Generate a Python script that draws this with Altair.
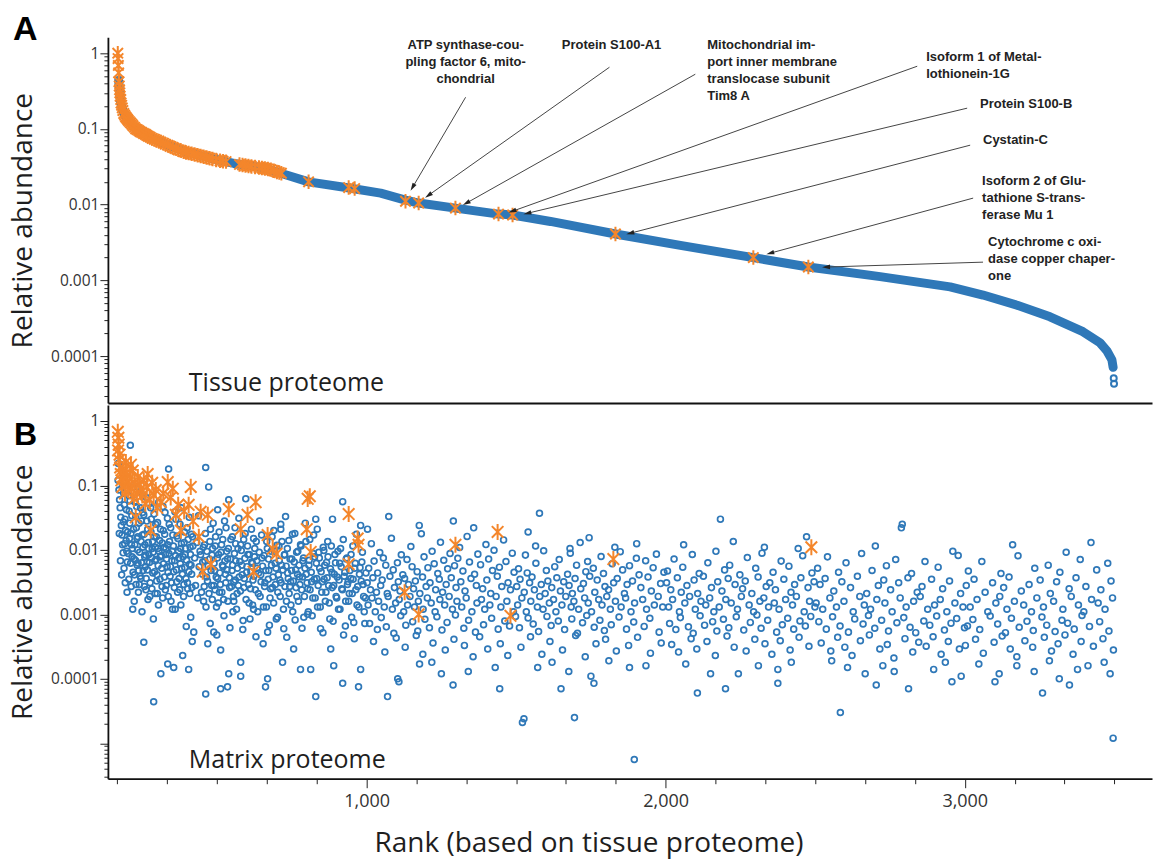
import math
import altair as alt
import pandas as pd

BLUE = "#2f78b8"
ORANGE = "#f4862b"
FONT = "Open Sans"
BOLD = "Liberation Sans"
INK = "#1e1e1e"

W, HA, HB = 1045, 366, 374
X_DOMAIN = [135, 3626]
YA_DOMAIN = [2.4e-5, 1.62]
YB_DOMAIN = [2.82e-6, 1.77]

# ---------------- Panel A: tissue proteome ----------------
tissue_rank = [171, 174, 178, 188, 205, 222, 245, 278, 335, 402,
               479, 556, 646, 713, 806, 947, 1047, 1130, 1174, 1297,
               1441, 1488, 1615, 1832, 2049, 2293, 2477, 2717, 2951, 3061,
               3175, 3285, 3395, 3452, 3476, 3492, 3496]
tissue_abund = [0.44, 0.30, 0.22, 0.16, 0.13, 0.105, 0.09, 0.078, 0.061, 0.049,
                0.041, 0.035, 0.031, 0.026, 0.020, 0.0165, 0.0142, 0.0115, 0.0105, 0.0090,
                0.0075, 0.0073, 0.0060, 0.0041, 0.0029, 0.0020, 0.0015, 0.00112, 0.00082, 0.00064,
                0.00047, 0.00033, 0.00021, 0.00015, 0.000116, 0.000089, 0.000071]
tissue_tail_rank = [3498, 3499]
tissue_tail_abund = [5.1e-5, 4.3e-5]

tissue_star_rank = [168, 169, 170, 171, 172, 173, 174, 175, 176, 178, 179, 181, 183, 185, 188, 191, 194, 197, 200,
                    203, 207, 211, 215, 219, 224, 228, 233, 238, 243, 248, 254, 260, 265, 270, 276, 283, 290,
                    297, 305, 312, 320, 327, 335, 343, 352, 361, 370, 379, 388, 396, 405, 415, 425, 435, 445,
                    455, 465, 475, 485, 497, 510, 520, 530, 575, 585, 595, 605, 615, 627, 640, 650, 660, 670,
                    680, 690, 700, 708, 715,
                    806, 940, 960, 1130, 1174, 1297, 1441, 1488, 1832, 2293, 2477]
tissue_star_abund = [1.0, 0.85, 0.69, 0.55, 0.42, 0.37, 0.33, 0.30, 0.27, 0.245, 0.22, 0.205, 0.19, 0.175, 0.16, 0.152, 0.145, 0.14, 0.135,
                     0.13, 0.125, 0.12, 0.115, 0.11, 0.105, 0.10, 0.098, 0.095, 0.092, 0.09, 0.087, 0.085, 0.082, 0.08, 0.078, 0.075, 0.073,
                     0.071, 0.069, 0.067, 0.065, 0.063, 0.061, 0.059, 0.057, 0.055, 0.053, 0.052, 0.050, 0.049, 0.048, 0.047, 0.046, 0.045, 0.044,
                     0.043, 0.042, 0.041, 0.040, 0.039, 0.038, 0.0375, 0.037, 0.034, 0.0335, 0.033, 0.0325, 0.032, 0.0315, 0.031, 0.0305, 0.030, 0.0295,
                     0.029, 0.028, 0.027, 0.0265, 0.026,
                     0.020, 0.0168, 0.0163, 0.0111, 0.0105, 0.0090, 0.0075, 0.0073, 0.0041, 0.0020, 0.0015]

ann_label = [
    "ATP synthase-cou-\npling factor 6, mito-\nchondrial",
    "Protein S100-A1",
    "Mitochondrial im-\nport inner membrane\ntranslocase subunit\nTim8 A",
    " Isoform 1 of Metal-\nlothionein-1G",
    "Protein S100-B",
    "Cystatin-C",
    " Isoform 2 of Glu-\ntathione S-trans-\nferase Mu 1",
    "  Cytochrome c oxi-\ndase copper chaper-\none",
]
ann_align = ["center", "center", "left", "left", "left", "left", "left", "left"]
ann_text_rank = [1331, 1819, 2139, 2871, 3051, 3061, 3058, 3078]
ann_text_abund = [1.53, 1.53, 1.53, 1.06, 0.255, 0.0853, 0.0245, 0.00384]
ann_from_rank = [1331, 1812, 2099, 2841, 3008, 3018, 3028, 3061]
ann_from_abund = [0.262, 0.653, 0.528, 0.673, 0.188, 0.061, 0.0122, 0.00174]
ann_tip_rank = [1154, 1207, 1334, 1488, 1538, 1882, 2350, 2537]
ann_tip_abund = [0.0170, 0.0133, 0.0105, 0.0082, 0.0077, 0.0042, 0.00229, 0.0015]

# ---------------- Panel B: matrix proteome (rank, relative abundance) ----------------
matrix_circles_1 = [[170,0.22],[172,0.085],[174,0.06],[176,0.045],[178,0.032],[180,0.024],[182,0.017],[184,0.012],[186,0.009],[188,0.075],
    [190,0.05],[192,0.03],[194,0.02],[196,0.014],[198,0.0095],[200,0.0065],[202,0.13],[204,0.07],[206,0.04],[208,0.026],
    [210,0.42],[212,0.018],[214,0.012],[216,0.0078],[218,0.0012],[220,0.095],[222,0.0073],[224,0.0041],[226,0.055],[228,0.033],
    [230,0.022],[232,0.015],[234,0.01],[236,0.0062],[238,0.0048],[240,0.0029],[242,0.08],[244,0.045],[245,0.0036],[247,0.028],
    [250,0.017],[252,0.011],[255,0.035],[255,0.00037],[258,0.0078],[260,0.0055],[262,0.0024],[264,0.065],[266,0.0065],[268,0.021],
    [270,0.013],[272,0.0085],[275,0.0019],[278,0.045],[280,0.03],[283,0.0105],[285,0.0044],[288,4.4e-5],[290,0.016],[292,0.0068],
    [295,0.025],[298,0.0033],[300,0.0021],[302,0.0105],[305,0.055],[308,0.014],[310,0.0078],[312,0.00012],[315,0.0052],[318,0.0018],
    [320,0.02],[323,0.011],[326,0.038],[328,0.0085],[330,0.0028],[333,0.0055],[335,0.012],[335,0.00017],[338,0.18],[340,0.025],
    [343,0.0039],[346,0.0016],[350,0.0095],[352,0.017],[355,0.0046],[355,0.00015],[358,0.0068],[360,0.0012],[362,0.03],[365,0.0032],
    [369,0.015],[372,0.0075],[375,0.0024],[378,0.0105],[380,0.045],[382,0.0052],[385,0.00023],[388,0.0019],[390,0.013],[393,0.0085],
    [396,0.0036],[400,0.022],[402,0.0025],[405,0.00014],[408,0.006],[410,0.011],[412,0.0009],[415,0.0042],[418,0.016]]
matrix_circles_1b = [[169,0.12],[173,0.018],[177,0.0068],[181,0.0041],[183,0.095],[187,0.027],[189,0.0052],[191,0.0125],[193,0.0031],[197,0.042],
    [199,0.0022],[201,0.019],[203,0.0088],[205,0.0035],[207,0.015],[209,0.058],[211,0.0062],[213,0.0027],[215,0.034],[217,0.0105],
    [219,0.0045],[221,0.021],[223,0.0016],[225,0.012],[227,0.0069],[229,0.0029],[231,0.047],[233,0.0058],[235,0.016],[237,0.0022],
    [239,0.026],[241,0.0092],[243,0.0039],[246,0.0135],[248,0.0063],[249,0.0011],[251,0.038],[253,0.0048],[256,0.0175],[257,0.0027],
    [259,0.012],[261,0.0083],[263,0.0036],[265,0.028],[267,0.0049],[269,0.0017],[271,0.0105],[273,0.052],[274,0.0064],[276,0.0031],
    [279,0.019],[281,0.0075],[282,0.0025],[284,0.0135],[286,0.0092],[287,0.00085],[289,0.036],[291,0.0046],[293,0.0021],[294,0.011],
    [296,0.0071],[297,0.016],[299,0.0041],[301,0.0265],[303,0.0057],[304,0.0014],[306,0.0095],[309,0.0035],[311,0.021],[314,0.0082],
    [316,0.0027],[317,0.0128],[319,0.047],[321,0.0061],[324,0.0038],[325,0.0175],[327,0.0024],[329,0.0105],[331,0.0072],[334,0.031],
    [336,0.0045],[337,0.0019],[339,0.0088],[341,0.0135],[344,0.0055],[345,0.022],[348,0.0031],[349,0.0068],[351,0.0012],[354,0.0115],
    [357,0.0026],[359,0.039],[361,0.0082],[364,0.0049],[366,0.0165],[368,0.0022],[371,0.0095],[373,0.0036],[376,0.025],[377,0.0061],
    [379,0.0014],[381,0.0125],[384,0.0042],[386,0.0078],[389,0.0029],[391,0.019],[392,0.0053],[395,0.0105],[397,0.00065],[398,0.0069],
    [401,0.0031],[403,0.0145],[406,0.0046],[407,0.032],[409,0.0021],[411,0.0085],[413,0.0058],[414,0.0175],[416,0.0026],[417,0.00038],[419,0.0115]]
matrix_circles_2 = [[422,0.00053],[425,0.0075],[428,0.0028],[432,0.013],[435,0.0018],[438,0.034],[440,0.0055],[443,0.0095],[445,0.0084],[448,0.0022],
    [452,0.0065],[455,0.0016],[458,0.012],[462,5.8e-5],[462,0.19],[465,0.0038],[469,0.00035],[472,0.095],[475,0.0072],[478,0.021],
    [482,0.0028],[485,0.0105],[489,0.00053],[489,0.0028],[492,0.0048],[495,0.016],[498,0.0013],[502,0.042],[502,0.0036],[505,0.0085],
    [508,0.0022],[512,0.00028],[512,7e-5],[515,0.012],[518,0.0058],[522,0.0017],[525,0.028],[528,0.0042],[532,0.0095],[535,7.5e-5],
    [535,0.0073],[539,0.06],[539,0.00012],[542,0.0026],[546,0.0145],[550,0.0048],[553,0.0011],[556,0.0032],[556,0.0016],[560,0.022],
    [563,0.0068],[567,0.0021],[570,0.0105],[574,0.0038],[579,0.012],[579,0.00011],[579,0.00018],[583,0.0058],[587,0.0008],[590,0.0026],
    [594,0.018],[596,0.062],[599,0.0045],[603,0.0085],[607,0.0015],[612,0.0025],[616,0.0065],[620,0.0034],[622,0.015],[622,0.0012],
    [626,0.0105],[630,0.00045],[634,0.0052],[638,0.0021],[642,0.028],[646,0.0041],[650,0.0075],[655,0.0013],[660,0.0031],[662,7.5e-5],
    [666,0.0135],[669,0.00053],[669,0.0001],[673,0.0048],[677,0.0018],[681,0.0095],[685,0.0026],[690,0.02],[694,0.0062],[698,0.00085]]
matrix_circles_3 = [[703,0.0022],[707,0.0115],[710,0.0034],[713,0.021],[713,0.025],[716,0.0058],[719,0.00018],[723,0.0006],[726,0.0085],[729,0.033],
    [732,0.0016],[736,0.0044],[740,0.014],[743,0.0027],[746,0.0032],[750,0.0072],[753,0.0011],[756,0.00029],[760,0.018],[763,0.0049],
    [767,0.0019],[770,0.0095],[775,0.0038],[779,0.012],[779,0.00014],[783,0.0024],[787,0.0068],[790,0.0009],[795,0.026],[798,0.0042],
    [803,0.001],[803,0.0025],[807,0.0058],[810,0.0145],[813,0.00014],[816,0.0032],[820,0.0018],[823,0.017],[826,0.0078],[830,5.3e-5],
    [830,0.03],[833,0.0036],[836,0.0013],[840,0.0092],[843,0.0052],[846,0.0006],[850,0.0022],[855,0.011],[858,0.0035],[862,0.0016],
    [866,0.0064],[870,0.0135],[873,0.0028],[877,0.00085],[880,0.00029],[884,0.0045],[886,0.03],[890,0.0028],[890,0.00016],[894,0.0085],
    [898,0.0019],[902,0.0038],[906,0.0012],[910,0.0062],[913,0.0105],[917,0.0025],[920,8.5e-5],[920,0.056],[923,0.00048],[927,0.0045],
    [930,0.0016],[934,0.0075],[938,0.0032],[942,0.0021],[947,0.0036],[950,0.0009],[954,0.0115],[957,0.00075],[960,0.0052],[964,0.0024],
    [968,0.0014],[973,7.5e-5],[976,0.0042],[980,0.024],[980,0.00014],[984,0.0065],[988,0.0029],[992,0.0011],[996,0.0018]]
matrix_circles_3b = [[451,0.0042],[454,0.011],[457,0.0027],[459,0.0068],[461,0.018],[463,0.0013],[466,0.0095],[468,0.0033],[470,0.0056],[473,0.0021],
    [476,0.0135],[477,0.00072],[480,0.0048],[483,0.0083],[484,0.0017],[487,0.026],[490,0.0062],[493,0.0024],[494,0.0115],[497,0.0038],
    [499,0.00048],[501,0.0075],[504,0.0015],[507,0.019],[509,0.0044],[511,0.0029],[513,0.0092],[516,0.0022],[519,0.0145],[520,0.0055],
    [523,0.00095],[526,0.0067],[529,0.0031],[530,0.022],[533,0.0049],[536,0.0016],[538,0.0105],[541,0.0037],[543,0.00062],[545,0.0072],
    [548,0.0027],[551,0.016],[552,0.0058],[555,0.0019],[558,0.0088],[561,0.0034],[562,0.0125],[565,0.0012],[568,0.0052],[571,0.0028],
    [573,0.031],[576,0.0066],[578,0.0023],[581,0.0098],[584,0.0041],[586,0.00058],[589,0.0145],[591,0.0036],[593,0.0074],[597,0.0017],
    [600,0.0055],[602,0.0115],[605,0.0029],[608,0.0085],[610,0.00085],[613,0.0046],[615,0.021],[618,0.0062],[619,0.0014],[623,0.0039],
    [625,0.0078],[628,0.0024],[631,0.0135],[633,0.0068],[636,0.0011],[639,0.0044],[641,0.0092],[644,0.0019],[647,0.0032],[649,0.017],
    [652,0.0056],[654,0.00035],[657,0.0082],[659,0.0027],[663,0.0048],[665,0.0013],[668,0.0105],[671,0.0035],[672,0.0072],[675,0.00068],
    [679,0.0025],[682,0.0058],[684,0.016],[687,0.0038],[689,0.0015],[692,0.0095],[695,0.0029],[697,0.0052],[700,0.0118],[702,0.0009],
    [705,0.0041],[708,0.0068],[711,0.0019],[714,0.0031],[717,0.0135],[720,0.0049],[722,0.0012],[725,0.0083],[727,0.0027],[731,0.0056],
    [733,0.00044],[735,0.0105],[738,0.0036],[741,0.0021],[744,0.0072],[747,0.0014],[749,0.0048],[752,0.0175],[755,0.0033],[758,0.0065],
    [761,0.00082],[764,0.0026],[766,0.0092],[769,0.0042],[772,0.0016],[774,0.0058],[777,0.0029],[781,0.0115],[784,0.00061],[786,0.0038],
    [789,0.0075],[792,0.0019],[794,0.0052],[797,0.0135],[801,0.0031],[805,0.0011],[808,0.0069],[811,0.0024],[815,0.0045],[818,0.00095],
    [821,0.0088],[825,0.0035],[828,0.0018],[832,0.0062],[835,0.021],[838,0.0028],[842,0.0075],[845,0.0013],[848,0.0046],[852,0.0032],
    [854,0.00052],[857,0.0098],[860,0.0058],[864,0.0022],[868,0.0037],[871,0.0078],[875,0.0015],[879,0.0051],[882,0.0115],[885,0.0026],
    [888,0.00078],[892,0.0042],[896,0.0063],[900,0.0018],[904,0.0095],[908,0.0034],[911,0.0012],[915,0.0055],[919,0.0024],[922,0.0145],
    [925,0.0039],[929,0.00066],[932,0.0072],[936,0.0029],[940,0.0016],[944,0.0048],[948,0.0085],[952,0.0021],[955,0.0035],[959,0.00042],
    [962,0.0062],[966,0.0175],[970,0.0027],[974,0.0013],[978,0.0053],[982,0.0033],[986,0.0092],[990,0.0019],[994,0.00072],[998,0.0044]]

m10_hi = [[1074,0.033],[1003,0.021],[1176,0.024],[1358,0.022],[1290,0.028],
    [1016,0.0125],[1044,0.0091],[1083,0.0152],[1116,0.0084],[1148,0.0113],[1183,0.0178],[1219,0.0095],[1247,0.0131],[1279,0.0088],[1311,0.0109],
    [1336,0.0162],[1372,0.0086],[1399,0.0121],[1426,0.0099],[1458,0.0143],[1487,0.0089],
    [1007,0.0052],[1025,0.0067],[1037,0.0044],[1056,0.0075],[1064,0.0058],[1089,0.0049],[1103,0.0063],[1121,0.0041],[1135,0.0071],[1152,0.0055],
    [1169,0.0046],[1192,0.0078],[1205,0.0053],[1226,0.0061],[1238,0.0043],[1258,0.0069],[1271,0.0051],[1294,0.0057],[1305,0.0074],[1322,0.0047],
    [1344,0.0065],[1361,0.0042],[1381,0.0059],[1408,0.0072],[1421,0.0048],[1444,0.0054],[1466,0.0066],[1493,0.0045]]
m10_mid = [[1002,0.0031],[1013,0.0024],[1021,0.0037],[1033,0.0022],[1047,0.0028],[1052,0.0034],[1069,0.0021],[1078,0.0039],[1093,0.0026],[1106,0.0032],
    [1112,0.0023],[1127,0.0036],[1140,0.0029],[1157,0.0025],[1163,0.0033],[1178,0.0021],[1187,0.0038],[1199,0.0027],[1212,0.0031],[1231,0.0024],
    [1243,0.0035],[1254,0.0022],[1266,0.0029],[1283,0.0037],[1299,0.0026],[1315,0.0032],[1329,0.0023],[1349,0.0036],[1367,0.0028],[1388,0.0025],
    [1402,0.0034],[1415,0.0021],[1437,0.0039],[1452,0.0027],[1473,0.0031],[1481,0.0024],
    [1005,0.0014],[1018,0.0018],[1029,0.0011],[1040,0.0016],[1059,0.0013],[1072,0.0019],[1086,0.0012],[1097,0.0015],[1109,0.0017],[1124,0.0011],
    [1137,0.0014],[1145,0.0019],[1160,0.0013],[1173,0.0016],[1189,0.0012],[1203,0.0018],[1216,0.0015],[1229,0.0011],[1245,0.0017],[1261,0.0014],
    [1276,0.0019],[1287,0.0012],[1302,0.0016],[1318,0.0013],[1333,0.0018],[1352,0.0011],[1369,0.0015],[1384,0.0017],[1395,0.0012],[1412,0.0014],
    [1433,0.0019],[1449,0.0013],[1469,0.0016],[1491,0.0011]]
m10_lo = [[1010,0.00072],[1036,0.00058],[1049,0.00089],[1066,0.00064],[1091,0.00051],[1114,0.00095],[1131,0.00068],[1154,0.00077],[1171,0.00055],[1195,0.00084],
    [1210,0.00062],[1235,0.00092],[1252,0.00057],[1269,0.00075],[1297,0.00098],[1325,0.00061],[1341,0.00081],[1364,0.00053],[1391,0.00069],[1418,0.00087],
    [1440,0.00059],[1462,0.00079],[1478,0.00066],[1498,0.00093],
    [1023,0.00038],[1061,0.00026],[1099,0.00043],[1129,0.00031],[1166,0.00047],[1188,0.00024],[1222,0.00036],[1263,0.00028],[1292,0.00041],[1327,0.00033],
    [1356,0.00022],[1378,0.00045],[1405,0.00029],[1447,0.00035],[1472,0.00023],
    [1177,0.00017],[1340,0.00013],[1218,0.00018],[1104,0.0001],[1250,0.00012],[1430,0.00015],
    [1070,5.3e-5],[1108,9e-5],[1289,8e-5],[1445,7e-5]]

m15_hi = [[1578,0.037],[1714,0.013],[1903,0.0125],[1565,0.0115],[1744,0.0155],[1680,0.0105],[1830,0.011],[1540,0.019],
    [1508,0.0051],[1531,0.0083],[1537,0.0044],[1566,0.0062],[1592,0.0097],[1601,0.0048],[1629,0.0055],[1644,0.0071],[1672,0.0042],[1681,0.0089],
    [1702,0.0058],[1733,0.0046],[1739,0.0066],[1758,0.0052],[1784,0.0079],[1792,0.0043],[1821,0.0061],[1848,0.0094],[1856,0.0049],[1879,0.0057],
    [1902,0.0074],[1911,0.0041],[1933,0.0068],[1958,0.0053],[1969,0.0086],[1994,0.0045]]
m15_mid = [[1502,0.0027],[1513,0.0035],[1527,0.0022],[1545,0.0031],[1553,0.0038],[1561,0.0024],[1584,0.0029],[1597,0.0021],[1606,0.0033],[1619,0.0026],
    [1636,0.0037],[1648,0.0023],[1659,0.0032],[1677,0.0028],[1688,0.0021],[1697,0.0036],[1716,0.0025],[1725,0.0030],[1746,0.0039],[1763,0.0022],
    [1771,0.0034],[1797,0.0027],[1809,0.0024],[1826,0.0031],[1838,0.0036],[1862,0.0021],[1871,0.0029],[1889,0.0033],[1917,0.0026],[1941,0.0038],
    [1952,0.0023],[1983,0.0030],
    [1505,0.0014],[1519,0.0018],[1534,0.0011],[1549,0.0016],[1571,0.0013],[1579,0.0019],[1590,0.0012],[1611,0.0015],[1625,0.0017],[1633,0.0011],
    [1653,0.0014],[1666,0.0019],[1684,0.0013],[1693,0.0016],[1709,0.0012],[1729,0.0018],[1741,0.0015],[1752,0.0011],[1776,0.0017],[1787,0.0014],
    [1803,0.0019],[1815,0.0012],[1832,0.0016],[1851,0.0013],[1866,0.0018],[1884,0.0011],[1896,0.0015],[1923,0.0017],[1936,0.0012],[1962,0.0014],
    [1975,0.0019],[1990,0.0013]]
m15_lo = [[1511,0.00062],[1540,0.00088],[1557,0.00071],[1575,0.00054],[1603,0.00093],[1617,0.00067],[1641,0.00079],[1662,0.00058],[1686,0.00085],[1705,0.00051],
    [1722,0.00074],[1736,0.00096],[1761,0.00063],[1780,0.00081],[1795,0.00056],[1818,0.00069],[1844,0.00091],[1869,0.00059],[1893,0.00076],[1928,0.00065],
    [1947,0.00087],[1978,0.00053],
    [1516,0.00031],[1548,0.00045],[1586,0.00024],[1613,0.00038],[1655,0.00028],[1699,0.00047],[1731,0.00022],[1767,0.00035],[1799,0.00041],[1835,0.00027],
    [1876,0.00033],[1906,0.00044],[1949,0.00025],[1985,0.00036],
    [1572,0.00015],[1676,0.00013],[1750,0.00011],[1810,0.00019],[1879,0.00015],[1934,0.00016],[1620,0.00018],
    [1521,2.1e-5],[1526,2.4e-5],[1695,2.5e-5],[1895,5.6e-6],[1650,7e-5],[1760,8.5e-5]]

m20_hi = [[2183,0.03],[2471,0.016],[2226,0.0135],[2443,0.0105],[2060,0.012],[2330,0.011],
    [2006,0.0047],[2028,0.0072],[2057,0.0054],[2089,0.0085],[2112,0.0043],[2141,0.0063],[2168,0.0095],[2197,0.0049],[2214,0.0058],[2248,0.0041],
    [2273,0.0076],[2301,0.0052],[2322,0.0089],[2359,0.0045],[2386,0.0067],[2412,0.0056],[2458,0.0081],[2489,0.0044]]
m20_mid = [[2003,0.0031],[2017,0.0024],[2039,0.0037],[2052,0.0022],[2071,0.0028],[2095,0.0034],[2107,0.0021],[2126,0.0039],[2153,0.0026],[2174,0.0032],
    [2188,0.0023],[2209,0.0036],[2232,0.0029],[2257,0.0025],[2266,0.0033],[2288,0.0021],[2309,0.0038],[2336,0.0027],[2348,0.0031],[2367,0.0024],
    [2395,0.0035],[2419,0.0022],[2431,0.0029],[2452,0.0037],[2476,0.0026],[2496,0.0032],
    [2010,0.0013],[2023,0.0017],[2046,0.0011],[2064,0.0015],[2080,0.0019],[2099,0.0012],[2118,0.0016],[2134,0.0014],[2147,0.0018],[2161,0.0011],
    [2179,0.0013],[2201,0.0017],[2219,0.0015],[2240,0.0012],[2253,0.0019],[2279,0.0014],[2294,0.0011],[2315,0.0016],[2328,0.0018],[2344,0.0013],
    [2363,0.0015],[2379,0.0012],[2401,0.0017],[2424,0.0014],[2437,0.0019],[2463,0.0011],[2481,0.0016],[2499,0.0013]]
m20_lo = [[2013,0.00072],[2034,0.00058],[2049,0.00089],[2076,0.00064],[2092,0.00051],[2115,0.00095],[2130,0.00068],[2157,0.00077],[2171,0.00055],[2193,0.00084],
    [2211,0.00062],[2236,0.00092],[2261,0.00057],[2283,0.00075],[2305,0.00098],[2319,0.00061],[2341,0.00081],[2371,0.00053],[2390,0.00069],[2408,0.00087],
    [2428,0.00059],[2449,0.00079],[2467,0.00066],[2485,0.00093],
    [2020,0.00034],[2043,0.00026],[2085,0.00042],[2104,0.00029],[2138,0.00038],[2166,0.00023],[2205,0.00046],[2229,0.00031],[2269,0.00027],[2298,0.00041],
    [2332,0.00035],[2355,0.00024],[2383,0.00039],[2416,0.00028],[2446,0.00044],[2479,0.00032],
    [2067,0.00017],[2150,0.00012],[2243,0.00012],[2310,0.00016],[2420,0.00018],[2375,0.00014],
    [2106,6e-5],[2375,8.5e-5],[2200,7e-5]]

m25_hi = [[2788,0.022],[2791,0.025],[2701,0.0115],[2960,0.0095],
    [2508,0.0052],[2541,0.0078],[2578,0.0045],[2603,0.0063],[2655,0.0088],[2690,0.0048],[2738,0.0057],[2769,0.0071],[2822,0.0043],[2867,0.0066],
    [2911,0.0054],[2978,0.0082]]
m25_mid = [[2516,0.0029],[2533,0.0036],[2562,0.0023],[2589,0.0032],[2618,0.0026],[2641,0.0039],[2672,0.0021],[2711,0.0028],[2729,0.0034],[2752,0.0024],
    [2779,0.0031],[2810,0.0037],[2841,0.0022],[2857,0.0027],[2889,0.0035],[2926,0.0025],[2949,0.0033],[2986,0.0021],
    [2503,0.0015],[2525,0.0012],[2549,0.0018],[2571,0.0013],[2596,0.0016],[2627,0.0011],[2649,0.0019],[2664,0.0014],[2685,0.0012],[2706,0.0017],
    [2733,0.0015],[2757,0.0011],[2784,0.0018],[2804,0.0013],[2829,0.0016],[2851,0.0019],[2876,0.0012],[2899,0.0014],[2918,0.0017],[2940,0.0011],
    [2967,0.0015],[2994,0.0013]]
m25_lo = [[2512,0.00077],[2537,0.00059],[2558,0.00092],[2583,0.00066],[2611,0.00053],[2632,0.00085],[2660,0.00071],[2678,0.00096],[2699,0.00061],[2722,0.00081],
    [2745,0.00055],[2773,0.00074],[2796,0.00089],[2817,0.00063],[2836,0.00052],[2863,0.00079],[2883,0.00068],[2906,0.00094],[2932,0.00057],[2954,0.00073],
    [2973,0.00086],[2999,0.00062],
    [2520,0.00036],[2552,0.00027],[2575,0.00044],[2599,0.00031],[2623,0.00023],[2651,0.00039],[2681,0.00048],[2716,0.00029],[2741,0.00034],[2763,0.00021],
    [2800,0.00042],[2826,0.00026],[2846,0.00037],[2871,0.00032],[2894,0.00045],[2921,0.00024],[2945,0.00038],[2982,0.00029],
    [2555,0.00019],[2608,0.00015],[2667,0.00012],[2726,0.00016],[2764,0.00013],[2896,0.00014],[2935,0.00018],[2988,0.00011],
    [2584,3e-5],[2704,8e-5],[2812,7e-5],[2957,9e-5]]

m30_hi = [[3160,0.012],[3422,0.013],[3339,0.0092],
    [3012,0.0047],[3057,0.0066],[3121,0.0043],[3178,0.0081],[3234,0.0052],[3279,0.0058],[3318,0.0045],[3386,0.0071],[3441,0.0049],[3478,0.0062]]
m30_mid = [[3005,0.0028],[3031,0.0035],[3068,0.0022],[3093,0.0031],[3130,0.0026],[3148,0.0038],[3189,0.0023],[3215,0.0029],[3252,0.0034],[3286,0.0021],
    [3307,0.0032],[3349,0.0025],[3372,0.0037],[3405,0.0027],[3455,0.0024],[3489,0.0033],
    [3018,0.0013],[3041,0.0017],[3077,0.0011],[3104,0.0015],[3117,0.0019],[3141,0.0012],[3166,0.0016],[3197,0.0014],[3223,0.0011],[3241,0.0018],
    [3263,0.0013],[3297,0.0016],[3328,0.0012],[3356,0.0019],[3380,0.0014],[3398,0.0011],[3424,0.0017],[3446,0.0015],[3469,0.0012],[3494,0.0018]]
m30_lo = [[3009,0.00066],[3027,0.00083],[3050,0.00058],[3085,0.00094],[3110,0.00071],[3136,0.00052],[3156,0.00087],[3182,0.00063],[3208,0.00078],[3229,0.00056],
    [3258,0.00091],[3274,0.00068],[3302,0.00054],[3325,0.00081],[3344,0.00073],[3366,0.00059],[3392,0.00096],[3417,0.00065],[3451,0.00077],[3482,0.00055],
    [3002,0.00033],[3036,0.00041],[3062,0.00025],[3098,0.00037],[3125,0.00046],[3152,0.00029],[3174,0.00022],[3201,0.00039],[3227,0.00031],[3266,0.00044],
    [3290,0.00027],[3312,0.00035],[3335,0.00048],[3362,0.00024],[3389,0.00038],[3430,0.00032],[3462,0.00042],[3497,0.00028],
    [3047,0.00017],[3115,0.00012],[3174,0.00016],[3232,0.00013],[3283,0.00019],[3316,0.0001],[3377,0.00014],[3412,0.00016],[3486,0.00012],[3466,0.00018],
    [3101,9e-5],[3496,1.2e-5],[3260,6e-5],[3350,8e-5]]

matrix_stars = [[168,0.68],[170,0.55],[171,0.43],[174,0.3],[178,0.15],[185,0.18],[195,0.23],[195,0.126],[200,0.11],[212,0.21],
    [215,0.09],[222,0.062],[228,0.032],[235,0.135],[245,0.089],[250,0.07],[260,0.052],[268,0.15],[278,0.02],[288,0.071],
    [312,0.055],[335,0.113],[352,0.089],[362,0.035],[379,0.02],[405,0.05],[412,0.095],[439,0.016],[445,0.039],[452,0.0046],
    [469,0.035],[479,0.006],[539,0.043],[579,0.021],[602,0.035],[622,0.0046],[629,0.055],[669,0.017],[686,0.0104],[699,0.0087],
    [800,0.021],[803,0.062],[810,0.068],[813,0.0093],[940,0.036],[940,0.006],[970,0.015],[973,0.012],[1127,0.0022],[1174,0.001],
    [1297,0.012],[1438,0.019],[1481,0.00095],[1825,0.0072],[2487,0.011]]
matrix_stars_top = [[169,0.35],[172,0.25],[176,0.19],[180,0.12],[183,0.095],[188,0.14],[192,0.075],[198,0.16],[203,0.085],[208,0.13],
    [218,0.17],[225,0.11],[232,0.075],[240,0.105],[255,0.12],[265,0.095],[275,0.06],[283,0.11],[295,0.085],[300,0.045],
    [320,0.075],[345,0.065],[370,0.05],[390,0.04],[420,0.028]]

# ---------------- axes ----------------
x_ticks = [1000 * k // 6 if k % 6 == 0 else 1000 * k / 6 for k in range(1, 22)]


def log_ticks(lo, hi):
    out = []
    for e in range(-6, 1):
        for m in range(1, 10):
            v = float(f"{m}e{e}")
            if lo <= v <= hi:
                out.append(v)
    return out


MAJOR = "indexof([1, 0.1, 0.01, 0.001, 0.0001, 0.00001], datum.value) >= 0"
LABELED = "indexof([1, 0.1, 0.01, 0.001, 0.0001], datum.value) >= 0"


def y_axis(domain):
    return alt.Axis(
        values=log_ticks(domain[0], domain[1]), format=".4~f",
        labelExpr=f"{LABELED} ? datum.label : ''",
        tickSize={"condition": {"test": MAJOR, "value": 8}, "value": 4},
        tickColor="#222", tickWidth=1, domainColor="#111", domainWidth=1.8,
        labelFont=FONT, labelFontSize=15.5, labelColor="#333", labelPadding=1,
        labelOverlap=False, labelBound=False, labelFlush=False,
        title="Relative abundance", titleFont=FONT, titleFontSize=28,
        titleFontWeight="normal", titleColor=INK, titlePadding=13, grid=False)


def xenc(axis):
    return alt.X("rank:Q", scale=alt.Scale(domain=X_DOMAIN, nice=False, zero=False), axis=axis)


def yenc(domain, axis):
    return alt.Y("ab:Q", scale=alt.Scale(type="log", domain=domain, nice=False), axis=axis)


axA_x = alt.Axis(title=None, labels=False, ticks=False, domainColor="#111", domainWidth=1.8, grid=False)
axB_x = alt.Axis(
    values=x_ticks,
    labelExpr="datum.value % 1000 === 0 ? format(datum.value, ',') : ''",
    tickSize={"condition": {"test": "datum.value % 1000 === 0", "value": 9}, "value": 5},
    tickColor="#222", domainColor="#111", domainWidth=1.8,
    labelFont=FONT, labelFontSize=18, labelColor="#333", labelPadding=5,
    labelOverlap=False, labelBound=False, labelFlush=False,
    title="Rank (based on tissue proteome)", titleFont=FONT, titleFontSize=28,
    titleFontWeight="normal", titleColor=INK, titlePadding=19,
    titleX=481, titleAlign="center", grid=False)

XA, YA = xenc(axA_x), yenc(YA_DOMAIN, y_axis(YA_DOMAIN))
XB, YB = xenc(axB_x), yenc(YB_DOMAIN, y_axis(YB_DOMAIN))

STAR = "M0,-1L0,1M-0.72,-0.72L0.72,0.72M-0.72,0.72L0.72,-0.72"
ARROW = "M0,-1L0.55,0.9L-0.55,0.9Z"

# pixel-per-unit of the scales, for the arrowhead direction
kx = W / (X_DOMAIN[1] - X_DOMAIN[0])
ky = HA / (math.log10(YA_DOMAIN[1]) - math.log10(YA_DOMAIN[0]))
ann_angle = []
for r0, a0, r1, a1 in zip(ann_from_rank, ann_from_abund, ann_tip_rank, ann_tip_abund):
    dx = (r1 - r0) * kx
    dy = -(math.log10(a1) - math.log10(a0)) * ky
    ann_angle.append((math.degrees(math.atan2(dx, -dy)) + 360) % 360)

df_curve = pd.DataFrame({"rank": tissue_rank, "ab": tissue_abund})
df_tail = pd.DataFrame({"rank": tissue_tail_rank, "ab": tissue_tail_abund})
df_tstar = pd.DataFrame({"rank": tissue_star_rank, "ab": tissue_star_abund})
df_ann = pd.DataFrame({"label": ann_label, "align": ann_align,
                       "rank": ann_text_rank, "ab": ann_text_abund})
df_arrow = pd.DataFrame({"rank": ann_from_rank, "ab": ann_from_abund,
                         "rank2": ann_tip_rank, "ab2": ann_tip_abund})
df_head = pd.DataFrame({"rank": ann_tip_rank, "ab": ann_tip_abund, "angle": ann_angle})

circles = (matrix_circles_1 + matrix_circles_1b + matrix_circles_2 + matrix_circles_3 +
           matrix_circles_3b + m10_hi + m10_mid + m10_lo + m15_hi + m15_mid + m15_lo +
           m20_hi + m20_mid + m20_lo + m25_hi + m25_mid + m25_lo + m30_hi + m30_mid + m30_lo)
df_mc = pd.DataFrame(circles, columns=["rank", "ab"])
df_ms = pd.DataFrame(matrix_stars + matrix_stars_top, columns=["rank", "ab"])


def label_layer(text, x, y, size, bold=False, align="left", baseline="middle"):
    return alt.Chart(pd.DataFrame({"t": [text]})).mark_text(
        align=align, baseline=baseline, font=BOLD if bold else FONT,
        fontWeight="bold" if bold else "normal", fontSize=size,
        color="#000" if bold else INK).encode(text="t:N", x=alt.value(x), y=alt.value(y))


curve = alt.Chart(df_curve).mark_line(color=BLUE, strokeWidth=9, strokeCap="round",
                                      strokeJoin="round").encode(x=XA, y=YA)
tail = alt.Chart(df_tail).mark_point(shape="circle", filled=False, color=BLUE, size=36,
                                     strokeWidth=2, opacity=1).encode(x=XA, y=YA)
tstars = alt.Chart(df_tstar).mark_point(shape=STAR, filled=False, color=ORANGE, size=210,
                                        strokeWidth=2, opacity=1).encode(x=XA, y=YA)
arrows = alt.Chart(df_arrow).mark_rule(color="#444", strokeWidth=1).encode(
    x=XA, y=YA, x2="rank2:Q", y2="ab2:Q")
heads = alt.Chart(df_head).mark_point(shape=ARROW, filled=True, color="#222", size=70,
                                      opacity=1).encode(x=XA, y=YA, angle=alt.Angle("angle:Q", scale=None))
txt_kw = dict(baseline="top", lineBreak="\n", font=BOLD, fontWeight="bold", fontSize=13,
              lineHeight=17, color="#222")
ann_c = alt.Chart(df_ann).transform_filter("datum.align == 'center'").mark_text(
    align="center", **txt_kw).encode(x=XA, y=YA, text="label:N")
ann_l = alt.Chart(df_ann).transform_filter("datum.align == 'left'").mark_text(
    align="left", **txt_kw).encode(x=XA, y=YA, text="label:N")

panel_a = alt.layer(
    curve, tail, tstars, arrows, heads, ann_c, ann_l,
    label_layer("Tissue proteome", 81, 346, 25),
    label_layer("A", -95, 3, 34, bold=True, baseline="alphabetic"),
).properties(width=W, height=HA)

mcirc = alt.Chart(df_mc).mark_point(shape="circle", filled=False, color=BLUE, size=34,
                                    strokeWidth=1.7, opacity=1).encode(x=XB, y=YB)
mstars = alt.Chart(df_ms).mark_point(shape=STAR, filled=False, color=ORANGE, size=260,
                                     strokeWidth=2, opacity=1).encode(x=XB, y=YB)

panel_b = alt.layer(
    mcirc, mstars,
    label_layer("Matrix proteome", 81, 355, 25),
    label_layer("B", -94, 40, 32, bold=True, baseline="alphabetic"),
).properties(width=W, height=HB)

chart = alt.vconcat(panel_a, panel_b, spacing=0).configure_view(stroke=None).properties(
    background="white", padding={"left": 9, "top": 13, "right": 3, "bottom": 2})

chart.save("out.html", embed_options={"renderer": "svg", "actions": False})
